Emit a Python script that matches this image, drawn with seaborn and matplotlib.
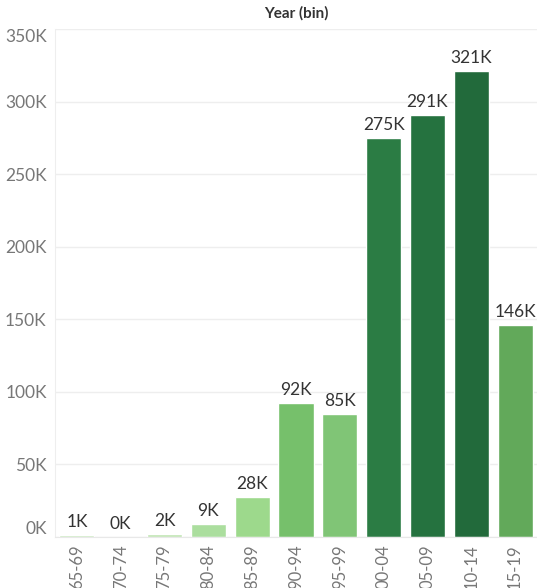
import matplotlib
matplotlib.use("Agg")
import matplotlib.pyplot as plt
import seaborn as sns
import pandas as pd

categories = ["65-69", "70-74", "75-79", "80-84", "85-89", "90-94",
              "95-99", "00-04", "05-09", "10-14", "15-19"]
values = [1200, 150, 1800, 8800, 27500, 92000, 85000, 275000, 291000, 321000, 146000]
labels = ["1K", "0K", "2K", "9K", "28K", "92K", "85K", "275K", "291K", "321K", "146K"]
colors = ["#c3e6b6", "#d4edca", "#bfe4b1", "#abde9e", "#9dd98c", "#76c06b",
          "#80c576", "#2b7c44", "#25723f", "#226a3b", "#62a95a"]
yticks = [0, 50000, 100000, 150000, 200000, 250000, 300000, 350000]
ytick_labels = ["0K", "50K", "100K", "150K", "200K", "250K", "300K", "350K"]

sns.set_style("white")
plt.rcParams['font.family'] = ['Lato', 'DejaVu Sans']

df = pd.DataFrame({"bin": categories, "value": values})

W, H = 537, 588
fig = plt.figure(figsize=(W / 100, H / 100), dpi=100)
ax = fig.add_axes([55 / W, 51 / H, (537 - 55) / W, (537 - 29) / H])

sns.barplot(data=df, x="bin", y="value", hue="bin", palette=colors,
            legend=False, ax=ax, width=0.8, saturation=1)

ax.set_ylim(0, 350000)
ax.set_xlim(-0.5, len(categories) - 0.5)
ax.set_yticks(yticks)
ax.set_yticklabels(ytick_labels, color="#777777", fontsize=12.5)
ax.tick_params(axis="y", length=0, pad=6)
ax.tick_params(axis="x", length=0, pad=5)
ylabs = ax.get_yticklabels()
ylabs[0].set_va("bottom")
ylabs[-1].set_va("top")
for t in ax.get_xticklabels():
    t.set_rotation(90)
    t.set_color("#777777")
    t.set_fontsize(12)
    t.set_va("top")
ax.set_xlabel("")
ax.set_ylabel("")
ax.yaxis.grid(True, color="#eeeeee", linewidth=1)
ax.set_axisbelow(True)
for s in ["top", "right"]:
    ax.spines[s].set_visible(False)
ax.spines["left"].set_color("#eeeeee")
ax.spines["bottom"].set_color("#e8e8e8")

for i, (v, lab) in enumerate(zip(values, labels)):
    ax.text(i, v + 3500, lab, ha="center", va="bottom", fontsize=12.5, color="#333333")

fig.text(296 / W, 1 - 13 / H, "Year (bin)", ha="center", va="center",
         fontsize=11, fontweight="bold", color="#333333")

fig.savefig("out.png", dpi=100)
